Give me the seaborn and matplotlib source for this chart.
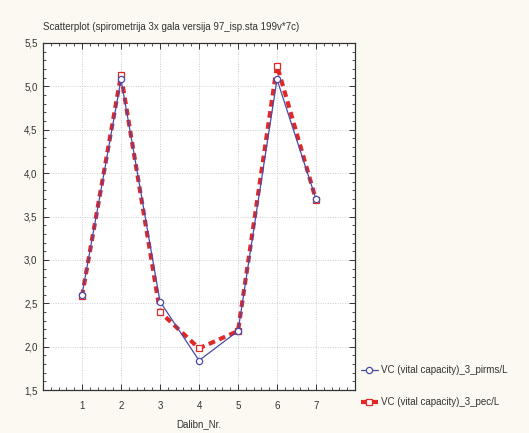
import matplotlib
matplotlib.use("Agg")
import matplotlib.pyplot as plt
from matplotlib.ticker import MultipleLocator, FuncFormatter
import seaborn as sns
import pandas as pd

# Measurement number and vital capacity readings (L)
dalibn_nr = [1, 2, 3, 4, 5, 6, 7]
vc_pirms = [2.60, 5.08, 2.52, 1.84, 2.18, 5.08, 3.70]
vc_pec = [2.58, 5.13, 2.40, 1.98, 2.18, 5.24, 3.69]

label_pirms = "VC (vital capacity)_3_pirms/L"
label_pec = "VC (vital capacity)_3_pec/L"
title = "Scatterplot (spirometrija 3x gala versija 97_isp.sta 199v*7c)"
xlabel = "Dalibn_Nr."

df = pd.DataFrame({"Dalibn_Nr.": dalibn_nr, "pirms": vc_pirms, "pec": vc_pec})

sns.set_style("white")
plt.rcParams["font.family"] = ["Liberation Sans", "DejaVu Sans"]
plt.rcParams["font.size"] = 7

fig = plt.figure(figsize=(5.29, 4.33), dpi=100)
fig.patch.set_facecolor("#fbf9f1")
ax = fig.add_axes([0.0813, 0.0993, 0.5898, 0.8014])
ax.set_facecolor("white")

blue = "#4a4aa8"
red = "#e02828"

sns.lineplot(data=df, x="Dalibn_Nr.", y="pirms", ax=ax, color=blue, lw=0.9,
             marker="o", markersize=4.5, markerfacecolor="white",
             markeredgecolor=blue, markeredgewidth=0.9, label=label_pirms, zorder=3)
sns.lineplot(data=df, x="Dalibn_Nr.", y="pec", ax=ax, color=red, lw=3.0,
             linestyle=(0, (1.6, 1.1)), marker="s", markersize=4.5,
             markerfacecolor="white", markeredgecolor=red, markeredgewidth=0.9,
             label=label_pec, zorder=2)

ax.set_xlim(0, 8)
ax.set_ylim(1.5, 5.5)
ax.xaxis.set_major_locator(MultipleLocator(1))
ax.xaxis.set_minor_locator(MultipleLocator(0.2))
ax.yaxis.set_major_locator(MultipleLocator(0.5))
ax.yaxis.set_minor_locator(MultipleLocator(0.1))
ax.xaxis.set_major_formatter(FuncFormatter(lambda v, p: "" if v in (0, 8) else f"{int(v)}"))
ax.yaxis.set_major_formatter(FuncFormatter(lambda v, p: f"{v:.1f}".replace(".", ",")))

ax.tick_params(which="both", direction="in", top=True, right=True, bottom=True, left=True,
               color="#333333", labelsize=7, labelcolor="#333333")
ax.tick_params(which="major", length=4, width=0.7)
ax.tick_params(which="minor", length=2, width=0.6)
ax.tick_params(axis="x", which="major", pad=8)
ax.tick_params(axis="y", which="major", pad=4)

ax.grid(True, which="major", color="#c8ccd4", linestyle=(0, (1, 1.5)), linewidth=0.7)
ax.set_axisbelow(True)
for s in ax.spines.values():
    s.set_color("#333333")
    s.set_linewidth(0.9)

ax.set_xlabel(xlabel, fontsize=7, color="#333333", labelpad=6)
ax.set_ylabel("")
ax.set_title(title, fontsize=7, color="#333333", loc="left", x=0.0, pad=9)

handles, labels = ax.get_legend_handles_labels()
ax.legend_.remove()
fig.legend(handles, labels, loc="center left", bbox_to_anchor=(0.665, 0.108),
           frameon=False, fontsize=7, labelspacing=2.3, handlelength=1.8,
           handletextpad=0.3, labelcolor="#333333")

fig.savefig("out.png", dpi=100, facecolor=fig.get_facecolor())
